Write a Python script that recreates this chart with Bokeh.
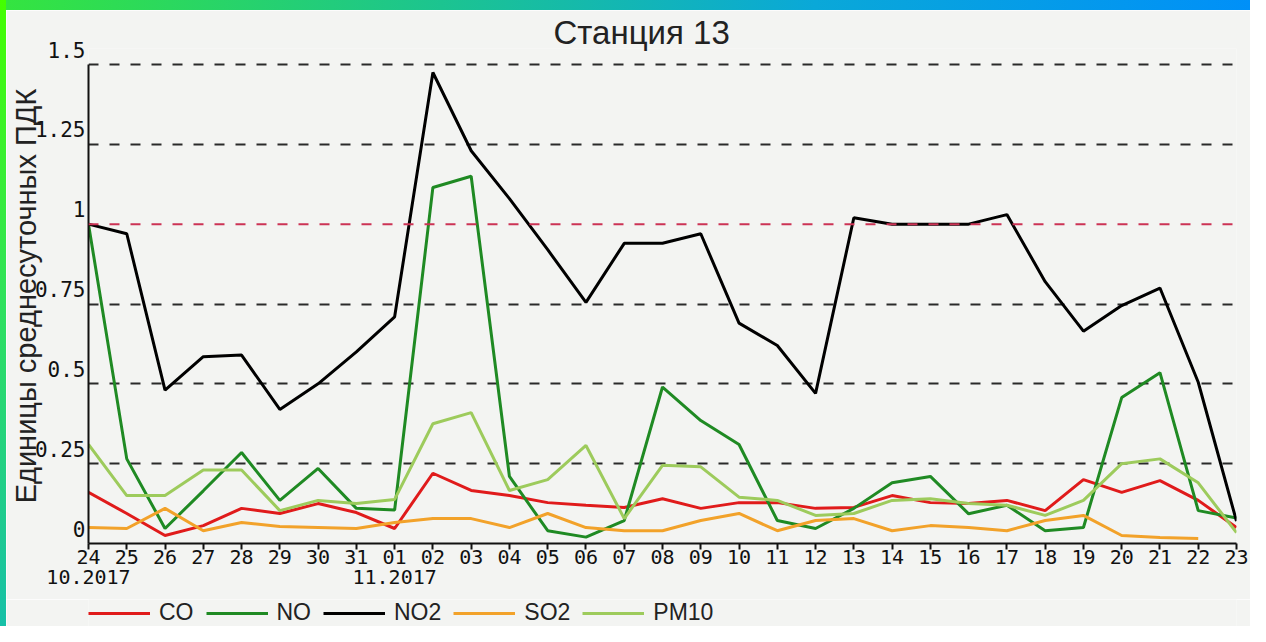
from bokeh.plotting import figure
from bokeh.models import (Range1d, LinearAxis, FixedTicker, Span, Legend, LegendItem,
                          ColumnDataSource, Div)
from bokeh.layouts import row, column
from bokeh.embed import file_html
from bokeh.resources import INLINE

# ---------------- data ----------------
title_text = "Станция 13"
y_axis_title = "Единицы среднесуточных ПДК"
days = ["24", "25", "26", "27", "28", "29", "30", "31", "01", "02", "03", "04", "05",
        "06", "07", "08", "09", "10", "11", "12", "13", "14", "15", "16", "17", "18",
        "19", "20", "21", "22", "23"]
month_starts = ["24", "01"]
month_labels = ["10.2017", "11.2017"]
y_ticks = [0, 0.25, 0.5, 0.75, 1.0, 1.25, 1.5]
y_tick_labels = ["0", "0.25", "0.5", "0.75", "1", "1.25", "1.5"]
grid_ticks = [0.25, 0.5, 0.75, 1.25, 1.5]
pdk_limit = 1.0

series_names = ["CO", "NO", "NO2", "SO2", "PM10"]
co = [0.16, 0.094, 0.025, 0.056, 0.11, 0.094, 0.125, 0.097, 0.047, 0.22, 0.166, 0.15,
      0.128, 0.12, 0.113, 0.14, 0.11, 0.128, 0.128, 0.11, 0.113, 0.15, 0.128, 0.125,
      0.135, 0.103, 0.2, 0.16, 0.197, 0.135, 0.05]
no = [1.0, 0.265, 0.047, 0.165, 0.285, 0.135, 0.235, 0.11, 0.105, 1.115, 1.15, 0.21,
      0.04, 0.02, 0.072, 0.49, 0.385, 0.31, 0.072, 0.047, 0.11, 0.19, 0.21, 0.093,
      0.12, 0.04, 0.05, 0.457, 0.535, 0.103, 0.08]
no2 = [1.0, 0.97, 0.48, 0.585, 0.59, 0.42, 0.5, 0.6, 0.71, 1.475, 1.23, 1.08, 0.92,
       0.755, 0.94, 0.94, 0.97, 0.69, 0.62, 0.47, 1.02, 1.0, 1.0, 1.0, 1.03, 0.82,
       0.665, 0.745, 0.80, 0.505, 0.07]
so2 = [0.05, 0.047, 0.11, 0.04, 0.066, 0.053, 0.05, 0.047, 0.066, 0.078, 0.078, 0.05,
       0.094, 0.05, 0.04, 0.04, 0.072, 0.094, 0.04, 0.072, 0.078, 0.04, 0.056, 0.05,
       0.04, 0.072, 0.088, 0.025, 0.019, 0.016, float("nan")]
pm10 = [0.31, 0.15, 0.15, 0.23, 0.23, 0.103, 0.135, 0.125, 0.138, 0.375, 0.41, 0.166,
        0.2, 0.307, 0.078, 0.245, 0.24, 0.145, 0.135, 0.088, 0.094, 0.135, 0.14, 0.125,
        0.12, 0.088, 0.135, 0.25, 0.265, 0.19, 0.034]
series_values = [co, no, no2, so2, pm10]
series_colors = ["#e01b1b", "#1f8a23", "#000000", "#f2a22a", "#9dcb5c"]

# ---------------- styling / layout constants ----------------
bg = "#f3f4f2"
ink = "#111111"
mono = "DejaVu Sans Mono"
sans = "Liberation Sans"

fig_w, fig_h = 1244, 589
border_top, border_bottom = 38, 56
frame_h = fig_h - border_top - border_bottom
top_gap_px = 16      # free room above the 1.5 line, for its label
lift_px = 15         # y labels are printed above their lines

y_top = y_ticks[-1]
y_end = y_top * frame_h / (frame_h - top_gap_px)
lift = lift_px * y_end / frame_h

xs = list(range(len(days)))

p = figure(width=fig_w, height=fig_h,
           x_range=Range1d(start=xs[0], end=xs[-1]),
           y_range=Range1d(start=y_ticks[0], end=y_end),
           y_axis_location=None,
           output_backend="svg", toolbar_location=None,
           background_fill_color=bg, border_fill_color=bg,
           outline_line_color=None,
           min_border_left=82, min_border_right=14,
           min_border_top=border_top, min_border_bottom=border_bottom)

p.title.text = title_text
p.title.align = "left"
p.title.offset = 465
p.title.standoff = -5
p.title.text_font = sans
p.title.text_font_size = "33px"
p.title.text_font_style = "normal"
p.title.text_color = "#222222"

# x axis (days)
xa = p.xaxis[0]
xa.ticker = FixedTicker(ticks=xs)
xa.major_label_overrides = {i: d for i, d in enumerate(days)}
xa.axis_line_width = 2
xa.axis_line_color = ink
xa.major_tick_out = 6
xa.major_tick_in = 0
xa.major_tick_line_width = 2
xa.major_tick_line_color = ink
xa.minor_tick_line_color = None
xa.major_label_standoff = 0
xa.major_label_text_font = mono
xa.major_label_text_font_size = "20px"
xa.major_label_text_color = ink

# month axis
month_pos = [days.index(m) for m in month_starts]
ma = LinearAxis(ticker=FixedTicker(ticks=month_pos),
                major_label_overrides={pos: lab for pos, lab in zip(month_pos, month_labels)},
                axis_line_color=None, major_tick_line_color=None, minor_tick_line_color=None,
                major_tick_out=0, major_tick_in=0, major_label_standoff=3,
                major_label_text_font=mono, major_label_text_font_size="20px",
                major_label_text_color=ink)
p.add_layout(ma, "below")

# y axis line (0 .. 1.5)
y_line_axis = LinearAxis(bounds=(y_ticks[0], y_top), ticker=FixedTicker(ticks=[]),
                         axis_line_width=2, axis_line_color=ink,
                         major_tick_out=0, major_tick_in=0, minor_tick_line_color=None,
                         major_label_standoff=0)
p.add_layout(y_line_axis, "left")

# y labels, lifted above their lines
p.extra_y_ranges = {"ylabels": Range1d(start=y_ticks[0] - lift, end=y_end - lift)}
y_label_axis = LinearAxis(y_range_name="ylabels", ticker=FixedTicker(ticks=y_ticks),
                          major_label_overrides={t: s for t, s in zip(y_ticks, y_tick_labels)},
                          axis_line_color=None, major_tick_out=0, major_tick_in=0,
                          major_tick_line_color=None, minor_tick_line_color=None,
                          major_label_standoff=3, major_label_text_font=mono,
                          major_label_text_font_size="21px", major_label_text_color=ink,
                          axis_label=y_axis_title, axis_label_text_font=sans,
                          axis_label_text_font_size="29px", axis_label_text_font_style="normal",
                          axis_label_text_color="#222222", axis_label_standoff=-10)
p.add_layout(y_label_axis, "left")

# grid
p.xgrid.visible = False
p.ygrid.ticker = FixedTicker(ticks=grid_ticks)
p.ygrid.grid_line_color = "#2a2a2a"
p.ygrid.grid_line_width = 2
p.ygrid.grid_line_dash = "10 11"

p.add_layout(Span(location=pdk_limit, dimension="width", line_color="#cc3355",
                  line_width=2, line_dash="10 11"))

# series
for name, vals, col in zip(series_names, series_values, series_colors):
    src = ColumnDataSource(data=dict(x=xs, y=vals))
    p.line("x", "y", source=src, line_color=col, line_width=3)

# legend strip underneath
lf = figure(width=fig_w, height=27, output_backend="svg", toolbar_location=None,
            x_range=Range1d(start=xs[0], end=xs[-1]), y_range=Range1d(start=0, end=1),
            x_axis_location=None, y_axis_location=None,
            background_fill_color=bg, border_fill_color=bg, outline_line_color=None,
            min_border_left=81, min_border_right=14, min_border_top=0, min_border_bottom=0)
lf.xgrid.visible = False
lf.ygrid.visible = False
items = []
for name, vals, col in zip(series_names, series_values, series_colors):
    src = ColumnDataSource(data=dict(x=xs[:1], y=vals[:1]))
    r = lf.line("x", "y", source=src, line_color=col, line_width=3)
    items.append(LegendItem(label=name, renderers=[r]))
lf.add_layout(Legend(items=items, orientation="horizontal", location="top_left",
                     label_text_font=sans, label_text_font_size="23px", label_text_color="#222222",
                     glyph_width=62, glyph_height=16, spacing=12, label_standoff=9,
                     padding=0, margin=0, border_line_color=None, background_fill_alpha=0))

left_band = Div(text="", width=6, height=626, margin=0,
                styles={"background": "linear-gradient(to bottom, #44ff00, #2ee060 50%, #16c0a8)"})
top_band = Div(text="", width=fig_w, height=10, margin=0,
               styles={"background": "linear-gradient(to right, #34e440, #1cc490 35%, #0aa8d8 65%, #0090f8)"})

layout = row(left_band, column(top_band, p, lf, spacing=0), spacing=0)

open("out.html", "w").write(file_html(layout, INLINE))
